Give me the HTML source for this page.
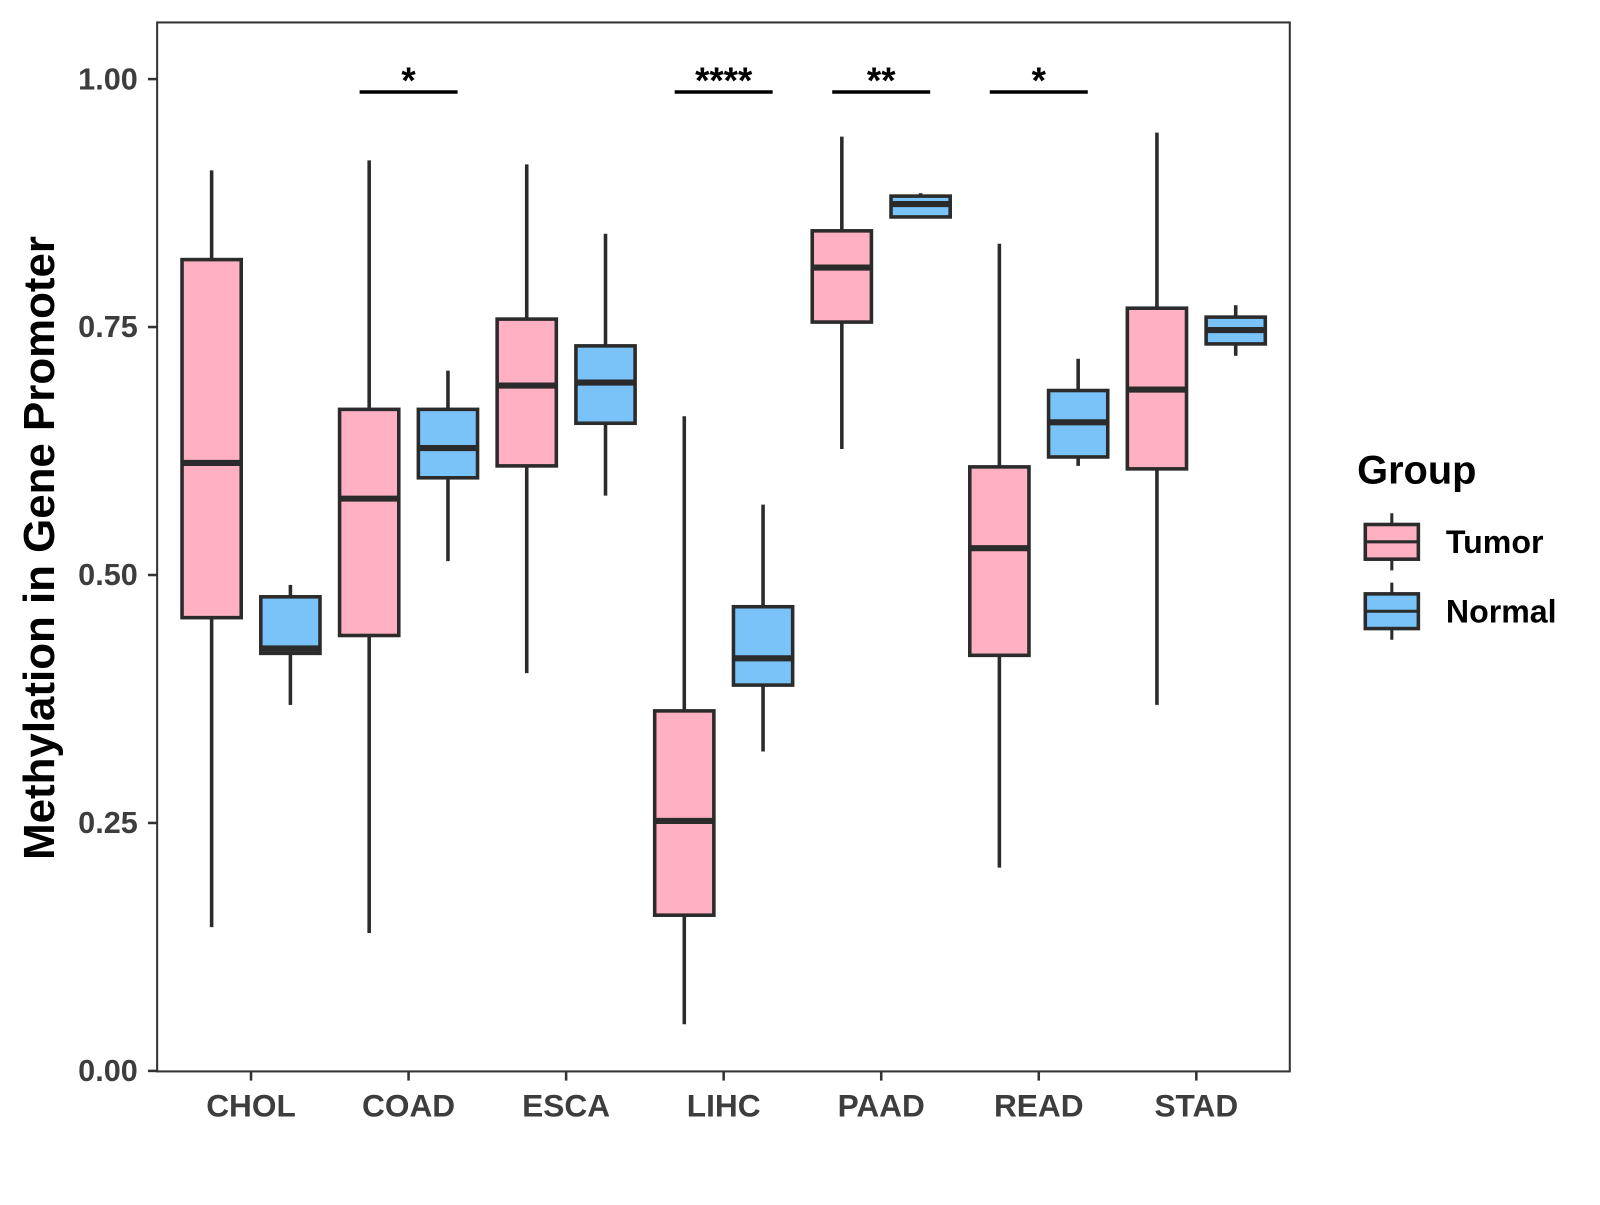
<!DOCTYPE html>
<html><head><meta charset="utf-8"><style>
body{margin:0;background:#fff}
text{font-family:"Liberation Sans",Arial,sans-serif;font-weight:bold}
</style></head><body>
<svg id="chart" width="1600" height="1200" viewBox="0 0 1600 1200" xmlns="http://www.w3.org/2000/svg">
<rect x="0" y="0" width="1600" height="1200" fill="#fff"/>
<g id="plot" transform="scale(1.0204)"></g>
</svg>
<script>
const categories = ["CHOL","COAD","ESCA","LIHC","PAAD","READ","STAD"];
// [upper whisker, Q3, median, Q1, lower whisker]
const tumorStats = [
 [0.908,0.818,0.613,0.457,0.145],
 [0.918,0.667,0.577,0.439,0.139],
 [0.914,0.758,0.691,0.610,0.401],
 [0.660,0.363,0.252,0.157,0.047],
 [0.942,0.847,0.810,0.755,0.627],
 [0.834,0.609,0.527,0.419,0.205],
 [0.946,0.769,0.687,0.607,0.369]
];
const normalStats = [
 [0.490,0.478,0.426,0.421,0.369],
 [0.706,0.667,0.628,0.598,0.514],
 [0.844,0.731,0.694,0.653,0.580],
 [0.571,0.468,0.416,0.389,0.322],
 [0.885,0.882,0.874,0.861,0.861],
 [0.718,0.686,0.654,0.619,0.610],
 [0.772,0.760,0.747,0.733,0.721]
];
const yTicks = [0,0.25,0.5,0.75,1.0];
const yTickLabels = ["0.00","0.25","0.50","0.75","1.00"];
const sigCategories = ["COAD","LIHC","PAAD","READ"];
const sigLabels = ["*","****","**","*"];
const sigLevel = 0.987;

const NS="http://www.w3.org/2000/svg";
const g=document.getElementById('plot');
const L=154,R=1264,T=22,B=1050;
function y(v){return 1049.5-972*v;}
function xc(i){return 246+i*154.4;}
function mk(tag,attrs,parent){const e=document.createElementNS(NS,tag);for(const k in attrs)e.setAttribute(k,attrs[k]);(parent||g).appendChild(e);return e;}
const stroke="#2b2b2b";

const panel=mk('rect',{x:L,y:T,width:R-L,height:B-T,fill:'none',stroke:'#333','stroke-width':2});



yTicks.forEach((v,i)=>{
 const t=mk('line',{x1:L-9,x2:L,y1:y(v),y2:y(v),stroke:'#333','stroke-width':2.5});
 
 
 const tx=mk('text',{x:L-19,y:y(v)+10,'text-anchor':'end','font-size':30,fill:'#3d3d3d'});
 tx.textContent=yTickLabels[i];
 
 
});
categories.forEach((c,i)=>{
 const t=mk('line',{x1:xc(i),x2:xc(i),y1:B,y2:B+9,stroke:'#333','stroke-width':2.5});
 
 
 const tx=mk('text',{x:xc(i),y:1094,'text-anchor':'middle','font-size':31,fill:'#3d3d3d'});
 tx.textContent=c;
 
 
});

function box(cx,s,fill,name){
 const grp=mk('g',{});
 
 
 const w=58;
 mk('line',{x1:cx,x2:cx,y1:y(s[0]),y2:y(s[1]),stroke:stroke,'stroke-width':3.5},grp);
 mk('line',{x1:cx,x2:cx,y1:y(s[3]),y2:y(s[4]),stroke:stroke,'stroke-width':3.5},grp);
 mk('rect',{x:cx-w/2,y:y(s[1]),width:w,height:Math.max(0.5,y(s[3])-y(s[1])),fill:fill,stroke:stroke,'stroke-width':3.5},grp);
 mk('line',{x1:cx-w/2,x2:cx+w/2,y1:y(s[2]),y2:y(s[2]),stroke:stroke,'stroke-width':6},grp);
}
categories.forEach((c,i)=>{
 box(xc(i)-38.6,tumorStats[i],'#FFB0C2','tumor-box-'+c.toLowerCase());
 box(xc(i)+38.6,normalStats[i],'#79C3F8','normal-box-'+c.toLowerCase());
});

sigCategories.forEach((c,k)=>{
 const i=categories.indexOf(c);
 const l=mk('line',{x1:xc(i)-48,x2:xc(i)+48,y1:y(sigLevel),y2:y(sigLevel),stroke:'#000','stroke-width':3.5});
 
 
 const t=mk('text',{x:xc(i),y:y(sigLevel)+1,'text-anchor':'middle','font-size':36,fill:'#000'});
 t.textContent=sigLabels[k];
 
 
});

const yt=mk('text',{x:0,y:0,transform:'translate(53,537) rotate(-90)','text-anchor':'middle','font-size':43,fill:'#000'});
yt.textContent='Methylation in Gene Promoter';



const lt=mk('text',{x:1330,y:474,'font-size':39,fill:'#000'});
lt.textContent='Group';


[['Tumor','#FFB0C2',531],['Normal','#79C3F8',599]].forEach(([n,f,cy])=>{
 const eg=mk('g',{});
 
 
 mk('line',{x1:1364,x2:1364,y1:cy-28,y2:cy+28,stroke:stroke,'stroke-width':3},eg);
 mk('rect',{x:1338,y:cy-17,width:52,height:34,fill:f,stroke:stroke,'stroke-width':3.5},eg);
 mk('line',{x1:1338,x2:1390,y1:cy,y2:cy,stroke:stroke,'stroke-width':3},eg);
 const t=mk('text',{x:1417,y:cy+11,'font-size':31.5,fill:'#000'},eg);
 t.textContent=n;
});
</script>
</body></html>
